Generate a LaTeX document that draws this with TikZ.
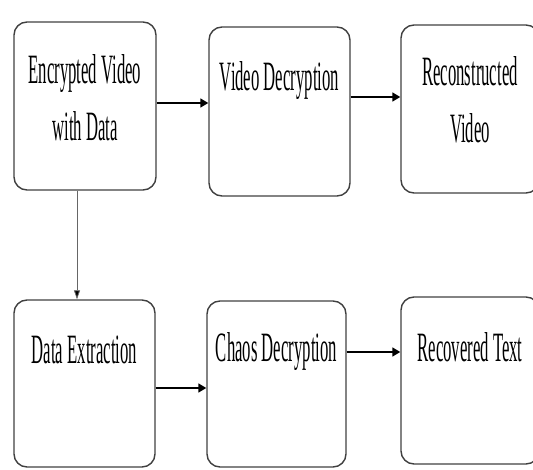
\documentclass[tikz,border=0pt]{standalone}
\usepackage{fontspec}
\setmainfont{Liberation Serif}
\usetikzlibrary{arrows.meta,positioning}
\newcommand{\tall}[1]{\scalebox{1}[2.5]{#1}}

\begin{document}
\begin{tikzpicture}[x=1pt,y=1pt,
  stage/.style={draw=black!75,line width=1.4pt,rounded corners=13pt,
    minimum width=140pt,minimum height=167pt,inner sep=0pt},
  lbl/.style={font=\fontsize{16.7}{57}\selectfont,align=center,inner sep=0pt,text=black},
  flow/.style={line width=1.7pt,-{Triangle[length=8pt,width=9pt]}},
  down/.style={line width=0.8pt,draw=black!60,-{Triangle[length=9pt,width=6pt,fill=black]}}]
  \useasboundingbox (0,0) rectangle (533,469);
  \clip (0,0) rectangle (533,469);
  \node[stage,minimum width=142pt,minimum height=168pt] (enc) at (85,363) {};
  \node[stage,minimum width=141pt,minimum height=169pt] (vdec) at (279.5,357.5) {};
  \node[stage,minimum width=138pt,minimum height=168pt] (rvid) at (470,360) {};
  \node[stage,minimum width=141pt,minimum height=167pt] (dext) at (84.5,85.5) {};
  \node[stage,minimum width=139pt,minimum height=166pt] (cdec) at (276.5,85) {};
  \node[stage,minimum width=138pt,minimum height=167pt] (rtxt) at (470,88.5) {};
  \node[lbl,below=33pt of enc.north] (enctext) {\tall{Encrypted Video}\\\tall{with Data}};
  \node[lbl,below=35pt of vdec.north] (vdectext) {\tall{Video Decryption}};
  \node[lbl,below=32pt of rvid.north] (rvidtext) {\tall{Reconstructed}\\\tall{Video}};
  \node[lbl,below=36pt of dext.north] (dexttext) {\tall{Data Extraction}};
  \node[lbl,below=32pt of cdec.north] (cdectext) {\tall{Chaos Decryption}};
  \node[lbl,below=36pt of rtxt.north] (rtxttext) {\tall{Recovered Text}};
  \draw[flow] ([yshift=3pt]enc.east) -- ([yshift=3pt]enc.east -| vdec.west);
  \draw[flow] ([yshift=14.5pt]vdec.east) -- ([yshift=14.5pt]vdec.east -| rvid.west);
  \draw[flow] ([yshift=-4.5pt]dext.east) -- ([yshift=-4.5pt]dext.east -| cdec.west);
  \draw[flow] ([yshift=32pt]cdec.east) -- ([yshift=32pt]cdec.east -| rtxt.west);
  \draw[down] ([xshift=-8pt]enc.south) -- ([xshift=-8pt]enc.south |- dext.north);
\end{tikzpicture}
\end{document}
